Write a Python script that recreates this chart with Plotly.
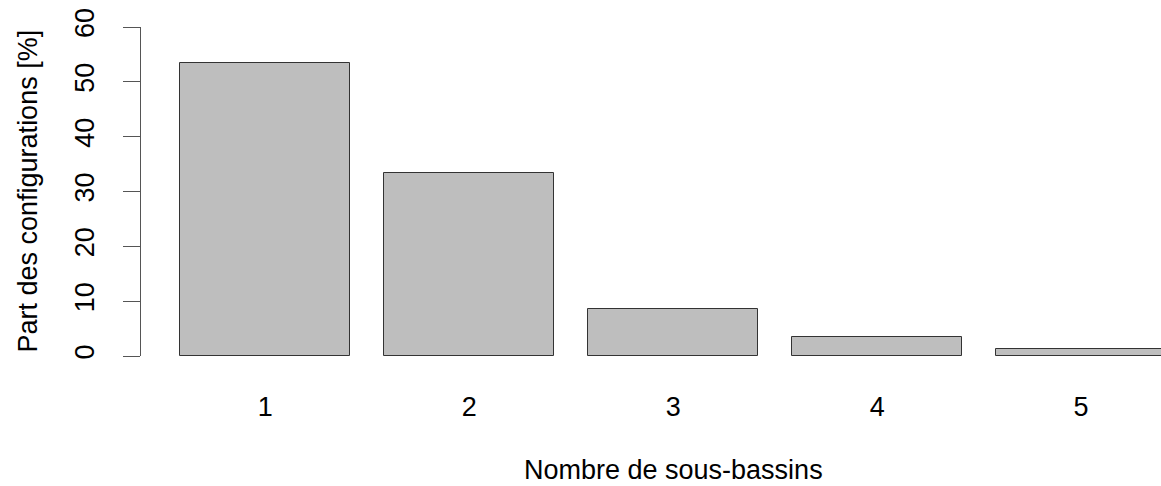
import plotly.graph_objects as go

categories = ["1", "2", "3", "4", "5"]
values = [53.4, 33.3, 8.6, 3.4, 1.3]
y_ticks = [0, 10, 20, 30, 40, 50, 60]
x_title = "Nombre de sous-bassins"
y_title = "Part des configurations [%]"

FONT = "Liberation Sans, Arial, sans-serif"

fig = go.Figure()
fig.add_trace(go.Bar(
    x=categories, y=values, width=0.8333,
    marker=dict(color="#bebebe", line=dict(color="#333333", width=1)),
    showlegend=False,
))

fig.update_layout(
    width=1161, height=486,
    margin=dict(l=141, r=0, t=27, b=130, pad=0, autoexpand=False),
    paper_bgcolor="white", plot_bgcolor="white",
    font=dict(family=FONT, size=27, color="black"),
    bargap=0,
    xaxis=dict(
        type="category", range=[-0.61, 4.392], automargin=False,
        showline=False, showgrid=False, zeroline=False,
        ticks="", ticklabelstandoff=32,
        tickfont=dict(size=27, color="black"),
    ),
    yaxis=dict(
        range=[0, 60], tickvals=y_ticks, automargin=False,
        showline=True, linecolor="#555555", linewidth=1,
        showgrid=False, zeroline=False,
        ticks="outside", ticklen=17, tickcolor="#555555", tickwidth=1,
        tickangle=-90, ticklabelstandoff=18,
        tickfont=dict(size=27, color="black"),
    ),
    annotations=[
        dict(text=x_title, xref="x", x=2, yref="paper", y=0,
             yanchor="middle", xanchor="center", yshift=-114,
             showarrow=False, font=dict(size=27, color="black")),
        dict(text=y_title, xref="paper", x=0, yref="paper", y=0.5,
             xanchor="center", yanchor="middle", xshift=-114, textangle=-90,
             showarrow=False, font=dict(size=27, color="black")),
    ],
)

fig.write_html(
    "out.html",
    config={"displayModeBar": False},
    post_script="document.body.style.margin='0';document.body.style.overflow='hidden';",
)
